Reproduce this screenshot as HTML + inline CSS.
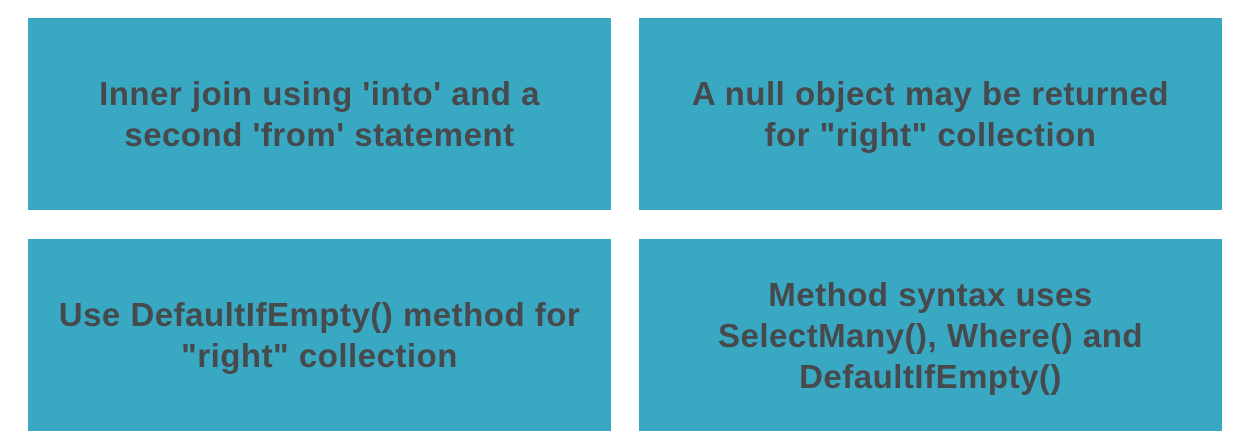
<!DOCTYPE html>
<html><head><style>
body{margin:0;width:1242px;height:442px;background:#fff;position:relative;overflow:hidden}
.b{position:absolute;background:#39a8c3;display:flex;align-items:center;justify-content:center;text-align:center;color:#474a4d;font:bold 33px/41px "Liberation Sans",sans-serif;letter-spacing:0.5px}
</style></head><body>
<div class="b" style="left:28px;top:18px;width:583px;height:192px">Inner join using 'into' and a<br>second 'from' statement</div>
<div class="b" style="left:639px;top:18px;width:583px;height:192px">A null object may be returned<br>for "right" collection</div>
<div class="b" style="left:28px;top:239px;width:583px;height:192px">Use DefaultIfEmpty() method for<br>"right" collection</div>
<div class="b" style="left:639px;top:239px;width:583px;height:192px">Method syntax uses<br>SelectMany(), Where() and<br>DefaultIfEmpty()</div>
</body></html>
